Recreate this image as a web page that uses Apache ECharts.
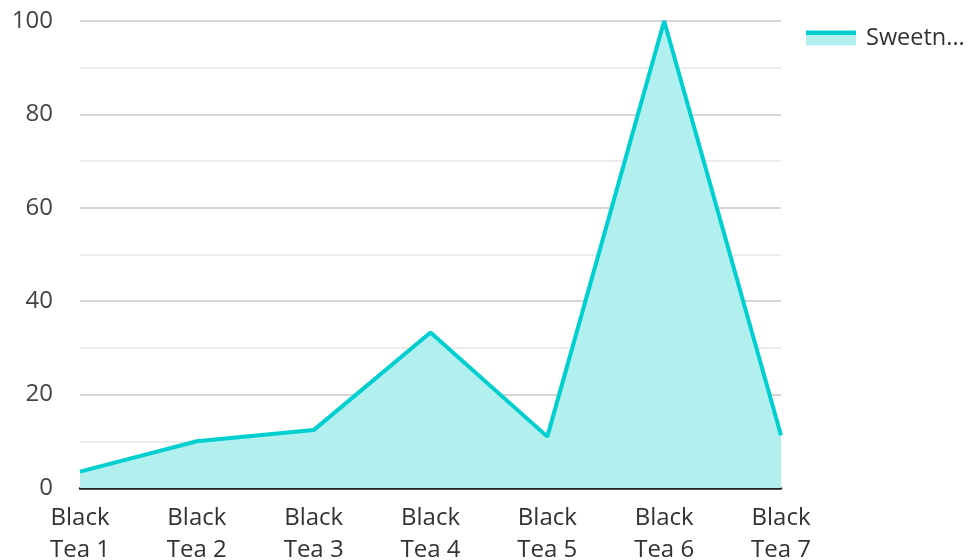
<!DOCTYPE html>
<html>
<head>
<meta charset="utf-8">
<script src="https://cdn.jsdelivr.net/npm/echarts@6/dist/echarts.min.js"></script>
<style>html,body{margin:0;padding:0;background:#fff}#c{width:971px;height:560px}</style>
</head>
<body>
<div id="c"></div>
<script>
const categories = ["Black Tea 1","Black Tea 2","Black Tea 3","Black Tea 4","Black Tea 5","Black Tea 6","Black Tea 7"];
const seriesName = "Sweetness";
const sweetness = [3.5, 10, 12.4, 33.3, 11, 100, 11.3];
const yTicks = {min: 0, max: 100, interval: 20};

const lineColor = '#00cfd0';
const fillColor = '#b2efef';
const chart = echarts.init(document.getElementById('c'));
chart.setOption({
  animation: false,
  textStyle: {fontFamily: 'Open Sans'},
  grid: {left: 80, right: 190, top: 21, bottom: 72, outerBoundsMode: 'none', containLabel: false},
  legend: {
    left: 801, top: 21, padding: 5, icon: 'rect', itemWidth: 50, itemHeight: 15, itemGap: 10,
    itemStyle: {
      color: {type: 'linear', x: 0, y: 0, x2: 0, y2: 1, colorStops: [
        {offset: 0, color: lineColor}, {offset: 0.27, color: lineColor},
        {offset: 0.27, color: fillColor}, {offset: 1, color: fillColor}]},
      borderWidth: 0
    },
    lineStyle: {width: 0, opacity: 0},
    textStyle: {fontSize: 23.5, color: '#333', fontFamily: 'Open Sans', width: 106, overflow: 'truncate', ellipsis: '...', padding: [0, 0, 0, 5]},
    data: [seriesName]
  },
  xAxis: {
    type: 'category', data: categories, boundaryGap: false,
    axisLine: {lineStyle: {color: '#222', width: 2.5}},
    axisTick: {show: false},
    axisLabel: {fontSize: 24, color: '#333', lineHeight: 32, margin: 14, interval: 0,
      formatter: v => v.replace('Black ', 'Black\n')},
    splitLine: {show: false}
  },
  yAxis: {
    type: 'value', min: yTicks.min, max: yTicks.max, interval: yTicks.interval,
    axisLine: {show: false}, axisTick: {show: false},
    axisLabel: {fontSize: 24, color: '#444', margin: 27},
    splitLine: {lineStyle: {color: '#c8c8c8', width: 1.5}},
    minorTick: {show: false, splitNumber: 2},
    minorSplitLine: {show: true, lineStyle: {color: '#e6e6e6', width: 1.5}}
  },
  series: [{
    name: seriesName, type: 'line', data: sweetness,
    showSymbol: false, symbol: 'none',
    lineStyle: {color: lineColor, width: 4},
    itemStyle: {color: lineColor},
    areaStyle: {color: fillColor, opacity: 1},
    z: 1
  }]
});
</script>
</body>
</html>
